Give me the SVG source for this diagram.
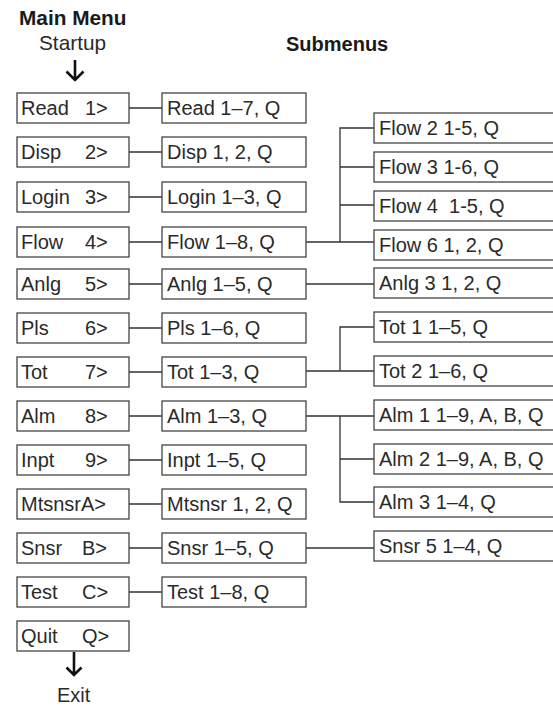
<svg xmlns="http://www.w3.org/2000/svg" width="553" height="706" viewBox="0 0 553 706">
<style>
text{font-family:"Liberation Sans",Arial,sans-serif;font-size:20px;fill:#2a2a2a}
.title{font-weight:bold;fill:#1a1a1a}
.box{fill:#fff;stroke:#444;stroke-width:1.3}
.conn{fill:none;stroke:#333;stroke-width:1.3}
.arrow{fill:none;stroke:#111;stroke-width:2.6}
</style>
<rect width="553" height="706" fill="#fff"/>
<text class="title" x="19" y="25" style="font-size:20.8px">Main Menu</text>
<text x="39" y="50" style="font-size:20.8px">Startup</text>
<text class="title" x="286" y="51">Submenus</text>
<g id="startArrow" class="arrow"><path d="M75 60V80M66.5 71.5L75 80L83.5 71.5"/></g>
<g id="connectors" class="conn">
<path d="M129 108H162M129 152H162M129 197H162M129 242H162M129 284H162M129 328H162M129 372H162M129 416H162M129 460H162M129 504H162M129 548H162M129 592H162"/>
<path d="M306 242H374M340 242V128H374M340 167H374M340 205H374"/>
<path d="M306 284H374"/>
<path d="M306 371H374M340 371V327H374"/>
<path d="M306 416H374M340 416V502H374M340 459H374"/>
<path d="M306 548H374"/>
</g>
<g id="m-read"><rect class="box" x="17" y="93" width="112" height="30"/><text y="114.5"><tspan x="21">Read</tspan><tspan x="85">1&gt;</tspan></text></g>
<g id="m-disp"><rect class="box" x="17" y="137" width="112" height="30"/><text y="158.5"><tspan x="21">Disp</tspan><tspan x="85">2&gt;</tspan></text></g>
<g id="m-login"><rect class="box" x="17" y="182" width="112" height="30"/><text y="203.5"><tspan x="21">Login</tspan><tspan x="85">3&gt;</tspan></text></g>
<g id="m-flow"><rect class="box" x="17" y="227" width="112" height="30"/><text y="248.5"><tspan x="21">Flow</tspan><tspan x="85">4&gt;</tspan></text></g>
<g id="m-anlg"><rect class="box" x="17" y="269" width="112" height="30"/><text y="290.5"><tspan x="21">Anlg</tspan><tspan x="85">5&gt;</tspan></text></g>
<g id="m-pls"><rect class="box" x="17" y="313" width="112" height="30"/><text y="334.5"><tspan x="21">Pls</tspan><tspan x="85">6&gt;</tspan></text></g>
<g id="m-tot"><rect class="box" x="17" y="357" width="112" height="30"/><text y="378.5"><tspan x="21">Tot</tspan><tspan x="85">7&gt;</tspan></text></g>
<g id="m-alm"><rect class="box" x="17" y="401" width="112" height="30"/><text y="422.5"><tspan x="21">Alm</tspan><tspan x="85">8&gt;</tspan></text></g>
<g id="m-inpt"><rect class="box" x="17" y="445" width="112" height="30"/><text y="466.5"><tspan x="21">Inpt</tspan><tspan x="85">9&gt;</tspan></text></g>
<g id="m-mtsnsr"><rect class="box" x="17" y="489" width="112" height="30"/><text x="21" y="510.5">MtsnsrA&gt;</text></g>
<g id="m-snsr"><rect class="box" x="17" y="533" width="112" height="30"/><text y="554.5"><tspan x="21">Snsr</tspan><tspan x="82">B&gt;</tspan></text></g>
<g id="m-test"><rect class="box" x="17" y="577" width="112" height="30"/><text y="598.5"><tspan x="21">Test</tspan><tspan x="82">C&gt;</tspan></text></g>
<g id="m-quit"><rect class="box" x="17" y="621" width="112" height="30"/><text y="642.5"><tspan x="21">Quit</tspan><tspan x="82">Q&gt;</tspan></text></g>
<g id="exitArrow" class="arrow"><path d="M74 652V675M66.5 667.5L74 675L81.5 667.5"/></g>
<text x="57" y="702">Exit</text>
<g id="s-read"><rect class="box" x="162" y="93" width="144" height="30"/><text x="167" y="114.5">Read 1–7, Q</text></g>
<g id="s-disp"><rect class="box" x="162" y="137" width="144" height="30"/><text x="167" y="158.5">Disp 1, 2, Q</text></g>
<g id="s-login"><rect class="box" x="162" y="182" width="144" height="30"/><text x="167" y="203.5">Login 1–3, Q</text></g>
<g id="s-flow"><rect class="box" x="162" y="227" width="144" height="30"/><text x="167" y="248.5">Flow 1–8, Q</text></g>
<g id="s-anlg"><rect class="box" x="162" y="269" width="144" height="30"/><text x="167" y="290.5">Anlg 1–5, Q</text></g>
<g id="s-pls"><rect class="box" x="162" y="313" width="144" height="30"/><text x="167" y="334.5">Pls 1–6, Q</text></g>
<g id="s-tot"><rect class="box" x="162" y="357" width="144" height="30"/><text x="167" y="378.5">Tot 1–3, Q</text></g>
<g id="s-alm"><rect class="box" x="162" y="401" width="144" height="30"/><text x="167" y="422.5">Alm 1–3, Q</text></g>
<g id="s-inpt"><rect class="box" x="162" y="445" width="144" height="30"/><text x="167" y="466.5">Inpt 1–5, Q</text></g>
<g id="s-mtsnsr"><rect class="box" x="162" y="489" width="144" height="30"/><text x="167" y="510.5">Mtsnsr 1, 2, Q</text></g>
<g id="s-snsr"><rect class="box" x="162" y="533" width="144" height="30"/><text x="167" y="554.5">Snsr 1–5, Q</text></g>
<g id="s-test"><rect class="box" x="162" y="577" width="144" height="30"/><text x="167" y="598.5">Test 1–8, Q</text></g>
<g id="r-flow2"><rect class="box" x="374" y="113" width="200" height="30"/><text x="379" y="134.5">Flow 2 1-5, Q</text></g>
<g id="r-flow3"><rect class="box" x="374" y="152" width="200" height="30"/><text x="379" y="173.5">Flow 3 1-6, Q</text></g>
<g id="r-flow4"><rect class="box" x="374" y="191" width="200" height="30"/><text x="379" y="212.5" xml:space="preserve" style="white-space:pre">Flow 4  1-5, Q</text></g>
<g id="r-flow6"><rect class="box" x="374" y="230" width="200" height="30"/><text x="379" y="251.5">Flow 6 1, 2, Q</text></g>
<g id="r-anlg3"><rect class="box" x="374" y="268" width="200" height="30"/><text x="379" y="289.5">Anlg 3 1, 2, Q</text></g>
<g id="r-tot1"><rect class="box" x="374" y="312" width="200" height="30"/><text x="379" y="333.5">Tot 1 1–5, Q</text></g>
<g id="r-tot2"><rect class="box" x="374" y="356" width="200" height="30"/><text x="379" y="377.5">Tot 2 1–6, Q</text></g>
<g id="r-alm1"><rect class="box" x="374" y="400" width="200" height="30"/><text x="379" y="421.5">Alm 1 1–9, A, B, Q</text></g>
<g id="r-alm2"><rect class="box" x="374" y="444" width="200" height="30"/><text x="379" y="465.5">Alm 2 1–9, A, B, Q</text></g>
<g id="r-alm3"><rect class="box" x="374" y="487" width="200" height="30"/><text x="379" y="508.5">Alm 3 1–4, Q</text></g>
<g id="r-snsr5"><rect class="box" x="374" y="531" width="200" height="30"/><text x="379" y="552.5">Snsr 5 1–4, Q</text></g>
</svg>
